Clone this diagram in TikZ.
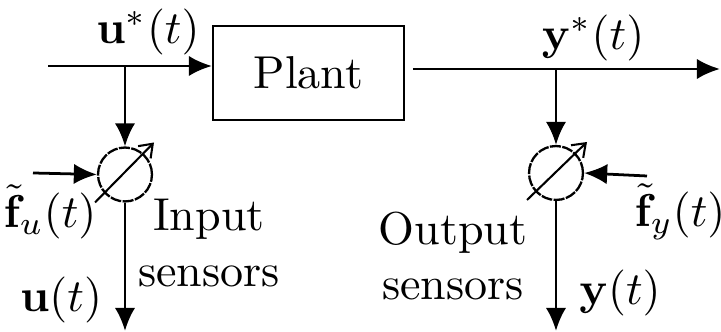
\documentclass[tikz,border=0pt]{standalone}
\usepackage{amsmath}
\usepackage{tikz}
\usetikzlibrary{arrows.meta}

\begin{document}
\begin{tikzpicture}[x=0.217pt,y=-0.217pt,
    sig/.style={line width=0.6pt,-{Latex[length=5pt,width=4.4pt]}},
    sensor/.style={draw,circle,line width=0.5pt,dash pattern=on 2.4pt off 0.3pt,minimum size=11.7pt,inner sep=0pt},
    gauge/.style={line width=0.45pt,-{Straight Barb[length=2.6pt,width=3.8pt]}}]

	\useasboundingbox (0,0) rectangle (721,332);

	% Plant and signal lines
	\node[draw,line width=0.5pt,minimum width=41.4pt,minimum height=20.4pt] (plant) at (308.5,73) {Plant};
	\coordinate (uin) at (48,66);
	\coordinate (ub) at (125,66);
	\coordinate (yout) at (720,69);
	\coordinate (yb) at (556,69);
	\draw[sig] (uin) -- (uin -| plant.west);
	\draw[sig,shorten <=1.7pt] (yout -| plant.east) -- (yout);

	% Input sensors
	\node[sensor] (su) at (125,174.5) {};
	\coordinate (fu) at (33,173);
	\coordinate (uo) at (125,331);
	\draw[sig] (ub) -- (su.north);
	\draw[sig] (fu) -- (su.west);
	\draw[sig] (su.south) -- (uo);
	\draw[gauge] (su) ++(-30,28) -- ++(59,-60);

	% Output sensors
	\node[sensor] (sy) at (556,173) {};
	\coordinate (fy) at (647,176);
	\coordinate (yo) at (556,331);
	\draw[sig] (yb) -- (sy.north);
	\draw[sig] (fy) -- (sy.east);
	\draw[sig] (sy.south) -- (yo);
	\draw[gauge] (sy) ++(-29,27) -- ++(60,-58);

	% Labels
	\node (ustar) at (148,32) {$\mathbf{u}^*(t)$};
	\node (ystar) at (593,38) {$\mathbf{y}^*(t)$};
	\node (fulab) at (50,212) {$\tilde{\mathbf{f}}_u(t)$};
	\node (fylab) at (680,212) {$\tilde{\mathbf{f}}_y(t)$};
	\node[align=center] (inlab) at (209,243) {Input\\sensors};
	\node[align=center] (outlab) at (453,256) {Output\\sensors};
	\node (ulab) at (61,300) {$\mathbf{u}(t)$};
	\node (ylab) at (620,293) {$\mathbf{y}(t)$};

\end{tikzpicture}
\end{document}
